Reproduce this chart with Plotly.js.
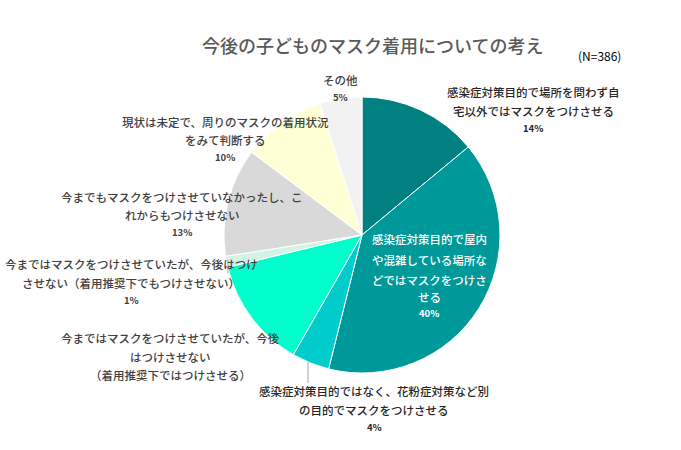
<!DOCTYPE html>
<html>
<head>
<meta charset="utf-8">
<script src="https://cdn.plot.ly/plotly-3.0.1.min.js"></script>
<style>html,body{margin:0;padding:0;background:#fff;}#chart{width:681px;height:450px;}</style>
</head>
<body>
<div id="chart"></div>
<script>
// ---- data ----
const categories = [
  "感染症対策目的で場所を問わず自宅以外ではマスクをつけさせる",
  "感染症対策目的で屋内や混雑している場所などではマスクをつけさせる",
  "感染症対策目的ではなく、花粉症対策など別の目的でマスクをつけさせる",
  "今まではマスクをつけさせていたが、今後はつけさせない（着用推奨下ではつけさせる）",
  "今まではマスクをつけさせていたが、今後はつけさせない（着用推奨下でもつけさせない）",
  "今までもマスクをつけさせていなかったし、これからもつけさせない",
  "現状は未定で、周りのマスクの着用状況をみて判断する",
  "その他"
];
const counts = [54, 154, 17, 50, 5, 49, 38, 19];
const showPercent = [true, true, true, false, true, true, true, true];
const labelLines = [
  ["感染症対策目的で場所を問わず自", "宅以外ではマスクをつけさせる"],
  ["感染症対策目的で屋内", "や混雑している場所な", "どではマスクをつけさ", "せる"],
  ["感染症対策目的ではなく、花粉症対策など別", "の目的でマスクをつけさせる"],
  ["今まではマスクをつけさせていたが、今後", "はつけさせない", "（着用推奨下ではつけさせる）"],
  ["今まではマスクをつけさせていたが、今後はつけ", "させない（着用推奨下でもつけさせない）"],
  ["今までもマスクをつけさせていなかったし、こ", "れからもつけさせない"],
  ["現状は未定で、周りのマスクの着用状況", "をみて判断する"],
  ["その他"]
];
const chartTitle = "今後の子どものマスク着用についての考え";
const sampleNote = "(N=386)";

// ---- styles / layout config ----
const colors = ["#008080", "#009999", "#00CCCC", "#00FFCC", "#D3F3E4", "#D9D9D9", "#FFFFD5", "#F2F2F2"];
const W = 681, H = 450;
const labelX = [533, 429, 374, 170, 131, 182, 225, 340];
const labelY = [
  [92, 111, 128],
  [239, 260, 280, 297, 313],
  [391, 410, 427],
  [338, 357, 375],
  [264, 283, 300],
  [197, 215, 232],
  [122, 140, 157],
  [80, 97]
];
const labelColor = ["#262626", "#FFFFFF", "#262626", "#404040", "#404040", "#404040", "#404040", "#404040"];
const FONT = "'Noto Sans CJK JP', 'Noto Sans', sans-serif";

const total = counts.reduce((a, b) => a + b, 0);
const annotations = [];
categories.forEach((c, i) => {
  const lines = labelLines[i].slice();
  const pct = Math.round(counts[i] / total * 100) + "%";
  lines.forEach((ln, j) => {
    annotations.push({
      xref: "paper", yref: "paper", x: labelX[i] / W, y: 1 - labelY[i][j] / H,
      xanchor: "center", yanchor: "middle", showarrow: false,
      text: ln, font: {family: FONT, size: 11.5, color: labelColor[i], weight: 500}
    });
  });
  if (showPercent[i]) {
    const j = lines.length;
    annotations.push({
      xref: "paper", yref: "paper", x: labelX[i] / W, y: 1 - labelY[i][j] / H,
      xanchor: "center", yanchor: "middle", showarrow: false,
      text: pct, font: {family: FONT, size: 9.5, color: labelColor[i], weight: 700}
    });
  }
});
annotations.push({
  xref: "paper", yref: "paper", x: 372 / W, y: 1 - 45 / H, xanchor: "center", yanchor: "middle",
  showarrow: false, text: chartTitle, font: {family: FONT, size: 18, color: "#595959", weight: 500}
});
annotations.push({
  xref: "paper", yref: "paper", x: 599 / W, y: 1 - 55 / H, xanchor: "center", yanchor: "middle",
  showarrow: false, text: sampleNote, font: {family: FONT, size: 12, color: "#000000"}
});

const cx = 362, cy = 235, r = 138;
const shapes = [
  {type: "line", xref: "paper", yref: "paper", x0: 308 / W, x1: 308 / W, y0: 1 - 362 / H, y1: 1 - 383 / H, line: {color: "#A6A6A6", width: 1}},
  {type: "line", xref: "paper", yref: "paper", x0: 228 / W, x1: 228 / W, y0: 1 - 260 / H, y1: 1 - 273 / H, line: {color: "#A6A6A6", width: 1}}
];

const trace = {
  type: "pie",
  labels: categories,
  values: counts,
  sort: false,
  direction: "clockwise",
  rotation: 0,
  textinfo: "none",
  hoverinfo: "none",
  marker: {colors: colors, line: {color: "#FFFFFF", width: 1}},
  domain: {x: [(cx - r) / W, (cx + r) / W], y: [(H - cy - r) / H, (H - cy + r) / H]},
  showlegend: false
};

const layout = {
  width: W, height: H,
  margin: {l: 0, r: 0, t: 0, b: 0},
  paper_bgcolor: "#FFFFFF",
  showlegend: false,
  annotations: annotations,
  shapes: shapes,
  font: {family: FONT}
};

Plotly.newPlot("chart", [trace], layout, {displayModeBar: false, staticPlot: true});
</script>
</body>
</html>
